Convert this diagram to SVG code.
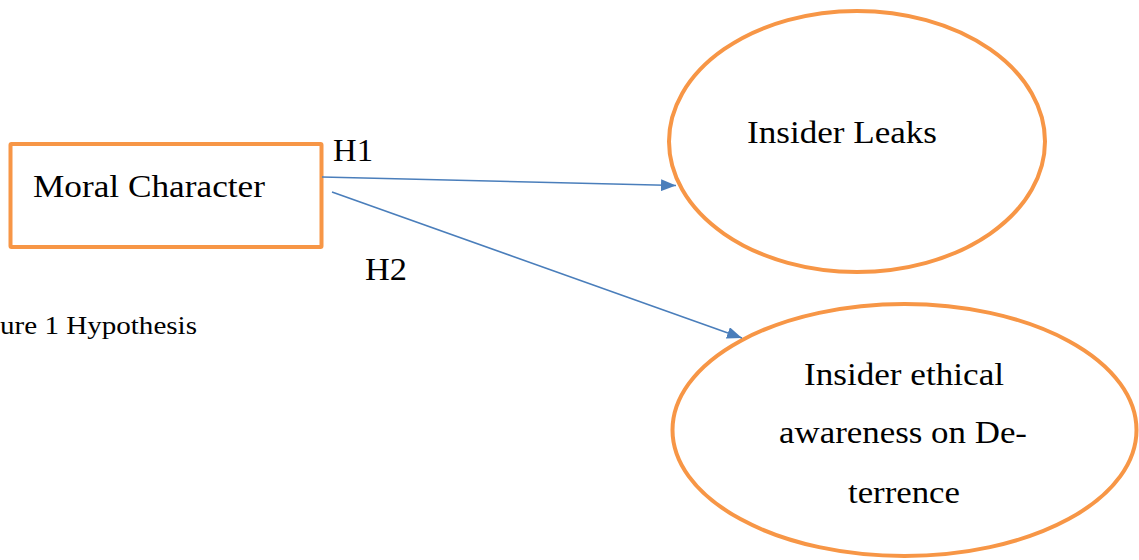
<svg xmlns="http://www.w3.org/2000/svg" width="1139" height="560" viewBox="0 0 1139 560">
<style>
.node{fill:#fff;stroke:#F79646;stroke-width:4}
.t{font-family:"Liberation Serif","Times New Roman",serif;font-size:31px;fill:#000}
.cap{font-family:"Liberation Serif","Times New Roman",serif;font-size:25px;fill:#000}
.conn{stroke:#4A7EBB;stroke-width:1.6;fill:none}
</style>
<defs>
<marker id="arr" viewBox="0 0 10 10" refX="10" refY="5" markerWidth="15" markerHeight="12" markerUnits="userSpaceOnUse" orient="auto" preserveAspectRatio="none">
<path d="M0,0 L10,5 L0,10 z" fill="#4A7EBB"/>
</marker>
</defs>
<rect width="1139" height="560" fill="#fff"/>
<g id="node-moral">
<rect class="node" x="10.5" y="144" width="311" height="103" rx="1"/>
<text class="t" x="33" y="197" textLength="232" lengthAdjust="spacingAndGlyphs">Moral Character</text>
</g>
<g id="node-leaks">
<ellipse class="node" cx="857" cy="141.5" rx="188" ry="130.5"/>
<text class="t" x="747" y="143" textLength="190" lengthAdjust="spacingAndGlyphs">Insider Leaks</text>
</g>
<g id="node-awareness">
<ellipse class="node" cx="904.5" cy="430" rx="232" ry="126"/>
<text class="t" x="804" y="385" textLength="200" lengthAdjust="spacingAndGlyphs">Insider ethical</text>
<text class="t" x="779" y="443" textLength="248" lengthAdjust="spacingAndGlyphs">awareness on De-</text>
<text class="t" x="848" y="503" textLength="112" lengthAdjust="spacingAndGlyphs">terrence</text>
</g>
<g id="connectors">
<line class="conn" x1="322" y1="177" x2="676" y2="185.5" marker-end="url(#arr)"/>
<line class="conn" x1="332" y1="192" x2="742" y2="338" marker-end="url(#arr)"/>
<text class="t" x="333" y="161" textLength="40" lengthAdjust="spacingAndGlyphs">H1</text>
<text class="t" x="365" y="280" textLength="42" lengthAdjust="spacingAndGlyphs">H2</text>
</g>
<text class="cap" x="0" y="334" textLength="197" lengthAdjust="spacingAndGlyphs">ure 1 Hypothesis</text>
</svg>
